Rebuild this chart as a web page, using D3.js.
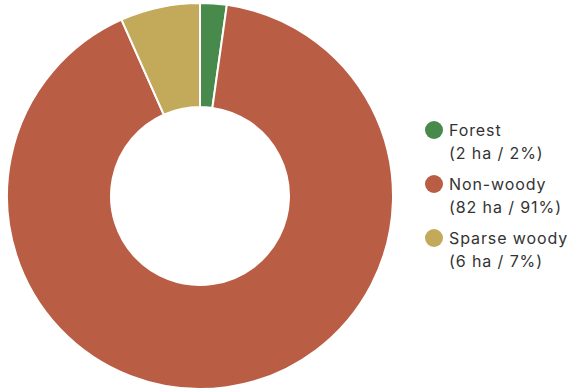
<!DOCTYPE html>
<html>
<head>
<meta charset="utf-8">
<script src="https://cdn.jsdelivr.net/npm/d3@7"></script>
<style>
  body { margin: 0; background: #fff; }
  text { font-family: Inter, "Noto Sans", sans-serif; }
</style>
</head>
<body>
<div id="chart"></div>
<script>
var categories = ['Forest', 'Non-woody', 'Sparse woody']
var hectares = [2, 82, 6]
var percents = [2, 91, 7]
var colors = ['#478a4c', '#b95d44', '#c3a95a']

var width = 576, height = 392
var cx = 200, cy = 196, outerR = 193, innerR = 89

var svg = d3.select('#chart').append('svg')
  .attr('width', width).attr('height', height)

var data = categories.map(function(d, i){
  return {name: d, ha: hectares[i], pct: percents[i], color: colors[i]}
})

var pie = d3.pie().sort(null).value(function(d){ return d.ha })
var arc = d3.arc().innerRadius(innerR).outerRadius(outerR)

svg.append('g')
  .attr('transform', 'translate(' + cx + ',' + cy + ')')
  .selectAll('path')
  .data(pie(data))
  .join('path')
  .attr('d', arc)
  .attr('fill', function(d){ return d.data.color })
  .attr('stroke', '#fff')
  .attr('stroke-width', 2)

var legend = svg.append('g').attr('transform', 'translate(434,130)')

var item = legend.selectAll('g')
  .data(data)
  .join('g')
  .attr('transform', function(d, i){ return 'translate(0,' + (i * 54) + ')' })

item.append('circle')
  .attr('r', 9)
  .attr('fill', function(d){ return d.color })

item.append('text')
  .attr('x', 15).attr('y', 6)
  .attr('font-size', 16)
  .attr('letter-spacing', 0.9)
  .attr('fill', '#333')
  .text(function(d){ return d.name })

item.append('text')
  .attr('x', 15).attr('y', 29)
  .attr('font-size', 16)
  .attr('letter-spacing', 0.9)
  .attr('fill', '#333')
  .text(function(d){ return '(' + d.ha + ' ha / ' + d.pct + '%)' })
</script>
</body>
</html>
